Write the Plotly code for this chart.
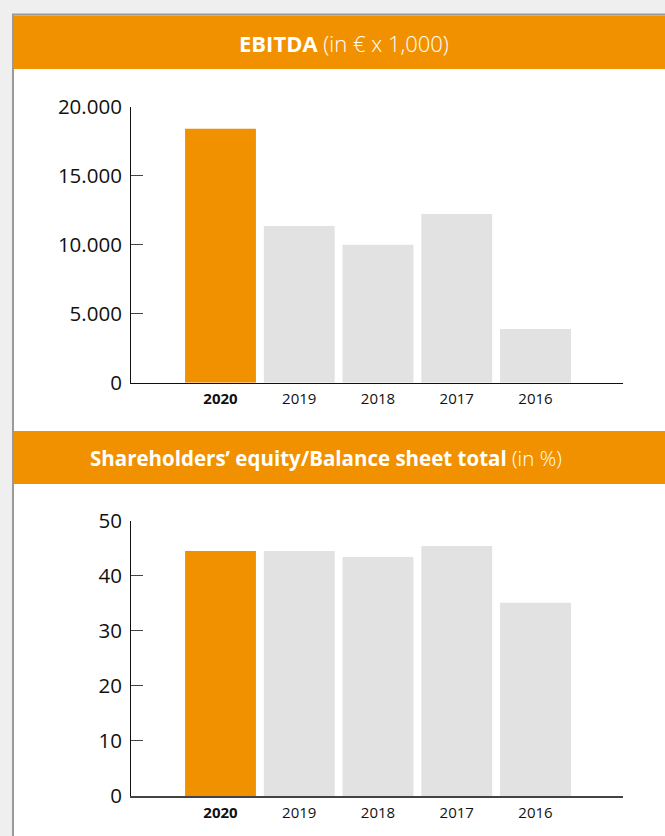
import plotly.graph_objects as go

W, H = 665, 836

years = ["2020", "2019", "2018", "2017", "2016"]
year_labels = ["<b>2020</b>", "2019", "2018", "2017", "2016"]
ebitda = [18400, 11350, 10000, 12220, 3900]
equity_ratio = [44.5, 44.5, 43.4, 45.4, 35.1]

ebitda_ticks = [0, 5000, 10000, 15000, 20000]
ebitda_ticktext = ["0", "5.000", "10.000", "15.000", "20.000"]
equity_ticks = [0, 10, 20, 30, 40, 50]
equity_ticktext = ["0", "10", "20", "30", "40", "50"]

title1 = "<b>EBITDA</b> <span style='font-weight:300'>(in € x 1,000)</span>"
title2 = "<b>Shareholders’ equity/Balance sheet total</b> <span style='font-weight:300'>(in %)</span>"

ORANGE = "#f29100"
GREY = "#e2e2e2"
bar_colors = [ORANGE, GREY, GREY, GREY, GREY]

def px_x(p):
    return p / W

def px_y(p):
    return 1 - p / H

FONT = "Open Sans"

fig = go.Figure()
fig.add_trace(go.Bar(x=years, y=ebitda, marker=dict(color=bar_colors, line=dict(width=0)),
                     xaxis="x", yaxis="y", hoverinfo="skip"))
fig.add_trace(go.Bar(x=years, y=equity_ratio, marker=dict(color=bar_colors, line=dict(width=0)),
                     xaxis="x2", yaxis="y2", hoverinfo="skip"))

xrange = [(131 - 220.5) / 78.75, (623 - 220.5) / 78.75]
xdom = [px_x(131), px_x(623)]

common_x = dict(
    type="category", range=xrange, domain=xdom, showgrid=False, zeroline=False,
    tickmode="array", tickvals=years, ticktext=year_labels, ticks="",
    tickfont=dict(family=FONT, size=15, color="#111111"), fixedrange=True,
    automargin=False, ticklabelstandoff=2,
)
common_y = dict(
    showgrid=False, zeroline=False, showline=True, linecolor="#111111", linewidth=1,
    ticks="inside", ticklen=12, tickwidth=1, tickcolor="#444444",
    tickfont=dict(family=FONT, size=20.5, color="#111111"), fixedrange=True,
    ticklabelstandoff=4, automargin=False,
)

fig.update_layout(
    width=W, height=H,
    margin=dict(l=0, r=0, t=0, b=0, pad=0, autoexpand=False),
    paper_bgcolor="#efefef",
    plot_bgcolor="rgba(0,0,0,0)",
    showlegend=False,
    bargap=0.1,
    xaxis=dict(common_x, anchor="y", showline=True, linecolor="#111111", linewidth=1),
    yaxis=dict(common_y, domain=[px_y(382.7), px_y(106.7)], range=[0, 20000],
               tickvals=ebitda_ticks, ticktext=ebitda_ticktext, anchor="x"),
    xaxis2=dict(common_x, anchor="y2", showline=True, linecolor="#444444", linewidth=1.5),
    yaxis2=dict(common_y, domain=[px_y(796), px_y(520.7)], range=[0, 50],
                tickvals=equity_ticks, ticktext=equity_ticktext, anchor="x2"),
    shapes=[
        dict(type="rect", xref="paper", yref="paper", x0=px_x(13), x1=1.05, y0=-0.05, y1=px_y(14.5),
             fillcolor="white", line=dict(color="#9a9a9a", width=2), layer="below"),
        dict(type="rect", xref="paper", yref="paper", x0=px_x(14), x1=1.05, y0=px_y(69), y1=px_y(15.5),
             fillcolor=ORANGE, line=dict(width=0), layer="below"),
        dict(type="rect", xref="paper", yref="paper", x0=px_x(14), x1=1.05, y0=px_y(484), y1=px_y(431),
             fillcolor=ORANGE, line=dict(width=0), layer="below"),
    ],
    annotations=[
        dict(text=title1, xref="paper", yref="paper", x=px_x(344), y=px_y(43), xanchor="center",
             yanchor="middle", showarrow=False, font=dict(family=FONT, size=22, color="white")),
        dict(text=title2, xref="paper", yref="paper", x=px_x(325.5), y=px_y(458), xanchor="center",
             yanchor="middle", showarrow=False, font=dict(family=FONT, size=20.5, color="white")),
    ],
)

fig.write_html(
    "out.html",
    config={"displayModeBar": False, "responsive": False},
    post_script="document.body.style.margin='0';document.body.style.overflow='hidden';",
)
